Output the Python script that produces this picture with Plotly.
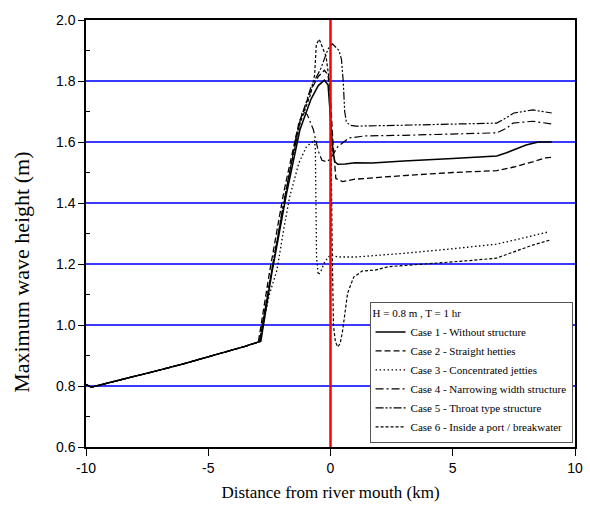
import plotly.graph_objects as go

# ---------------- data ----------------
x_common = [-10, -9.9, -9.78, -9.0, -8.0, -7.0, -6.0, -5.0, -4.0, -3.5, -3.0]
y_common = [0.805, 0.802, 0.796, 0.812, 0.831, 0.852, 0.873, 0.895, 0.918, 0.930, 0.943]

case1_x = [-2.85, -2.4, -1.8, -1.25, -0.8, -0.5, -0.25, -0.1, 0.0, 0.1, 0.18, 0.3, 0.6, 1.0, 1.7, 3.0, 5.0, 6.8, 7.2, 7.5, 8.0, 8.5, 9.05]
case1_y = [0.946, 1.17, 1.43, 1.64, 1.74, 1.785, 1.803, 1.787, 1.68, 1.57, 1.535, 1.527, 1.528, 1.532, 1.531, 1.538, 1.546, 1.554, 1.565, 1.575, 1.59, 1.60, 1.60]

case2_x = [-2.95, -2.5, -1.9, -1.3, -0.8, -0.5, -0.25, -0.1, 0.0, 0.1, 0.22, 0.5, 1.0, 3.0, 5.0, 6.8, 7.5, 8.27, 8.8, 9.05]
case2_y = [0.944, 1.17, 1.44, 1.66, 1.77, 1.815, 1.835, 1.82, 1.74, 1.60, 1.48, 1.47, 1.478, 1.49, 1.50, 1.506, 1.518, 1.535, 1.548, 1.55]

case3_x = [-2.9, -2.5, -2.19, -1.9, -1.67, -1.3, -0.99, -0.75, -0.66, -0.62, -0.6, -0.57, -0.5, -0.4, -0.26, -0.1, 0.02, 0.3, 1.03, 3.0, 5.0, 6.78, 7.5, 8.27, 8.9]
case3_y = [0.946, 1.10, 1.18, 1.32, 1.42, 1.53, 1.584, 1.60, 1.607, 1.58, 1.40, 1.22, 1.164, 1.175, 1.203, 1.222, 1.23, 1.223, 1.223, 1.235, 1.25, 1.265, 1.278, 1.292, 1.305]

case4_x = [-2.9, -2.4, -1.8, -1.4, -1.15, -0.95, -0.7, -0.5, -0.35, -0.15, 0.0, 0.14, 0.3, 0.75, 1.4, 3.0, 5.0, 6.8, 7.2, 7.46, 8.27, 9.07]
case4_y = [0.946, 1.18, 1.45, 1.62, 1.70, 1.69, 1.64, 1.57, 1.54, 1.535, 1.545, 1.564, 1.585, 1.613, 1.62, 1.622, 1.625, 1.63, 1.645, 1.662, 1.668, 1.659]

case5_x = [-2.9, -2.4, -1.8, -1.25, -0.8, -0.4, -0.1, 0.08, 0.35, 0.45, 0.52, 0.58, 0.65, 0.8, 1.03, 3.0, 5.0, 6.8, 7.2, 7.5, 8.27, 9.05]
case5_y = [0.946, 1.18, 1.45, 1.665, 1.78, 1.84, 1.905, 1.922, 1.90, 1.87, 1.80, 1.70, 1.665, 1.655, 1.652, 1.655, 1.658, 1.662, 1.68, 1.695, 1.705, 1.695]

case6_x = [-2.9, -2.4, -1.8, -1.25, -0.8, -0.65, -0.58, -0.46, -0.32, -0.18, -0.05, 0.02, 0.07, 0.12, 0.2, 0.3, 0.4, 0.5, 0.7, 0.95, 1.3, 1.83, 2.35, 4.0, 5.5, 6.78, 7.5, 8.27, 9.0]
case6_y = [0.946, 1.18, 1.45, 1.66, 1.76, 1.82, 1.92, 1.937, 1.91, 1.88, 1.80, 1.60, 1.25, 1.00, 0.945, 0.928, 0.94, 0.984, 1.105, 1.157, 1.177, 1.18, 1.191, 1.20, 1.21, 1.219, 1.24, 1.262, 1.279]

case_names = [
    "Case 1 - Without structure",
    "Case 2 - Straight hetties",
    "Case 3 - Concentrated jetties",
    "Case 4 - Narrowing width structure",
    "Case 5 - Throat type structure",
    "Case 6 - Inside a port / breakwater",
]
legend_title = "H = 0.8 m , T = 1 hr"
river_mouth_x = 0
x_ticks = [-10, -5, 0, 5, 10]
x_tick_labels = ["-10", "-5", "0", "5", "10"]
y_ticks = [0.6, 0.8, 1.0, 1.2, 1.4, 1.6, 1.8, 2.0]
y_tick_labels = ["0.6", "0.8", "1.0", "1.2", "1.4", "1.6", "1.8", "2.0"]
y_minor_ticks = [0.7, 0.9, 1.1, 1.3, 1.5, 1.7, 1.9]
y_range = [0.6, 2.0]

# ---------------- figure ----------------
series = [
    (case1_x, case1_y, "solid", 1.5),
    (case2_x, case2_y, "6px,3px", 1.3),
    (case3_x, case3_y, "1.5px,2.5px", 1.3),
    (case4_x, case4_y, "8px,3px,2px,3px", 1.2),
    (case5_x, case5_y, "8px,2px,2px,2px,2px,2px", 1.2),
    (case6_x, case6_y, "3px,2px", 1.2),
]

fig = go.Figure()
for (xs, ys, dash, w), name in zip(series, case_names):
    fig.add_trace(go.Scatter(
        x=x_common + xs, y=y_common + ys, mode="lines", name=name,
        line=dict(color="black", width=w, dash=dash),
    ))

fig.add_shape(type="line", x0=river_mouth_x, x1=river_mouth_x, xref="x",
              y0=0, y1=1, yref="paper", line=dict(color="#ff0000", width=2.5))

fig.add_annotation(text="Maximum wave height (m)", textangle=-90,
                   xref="paper", yref="paper", x=-0.131, y=0.41,
                   xanchor="center", yanchor="middle", showarrow=False,
                   font=dict(family="Liberation Serif", size=22, color="black"))

fig.update_layout(
    width=590, height=513,
    margin=dict(l=86, r=7, t=20, b=66),
    paper_bgcolor="white", plot_bgcolor="white",
    xaxis=dict(
        range=[-10, 10], tickvals=x_ticks, ticktext=x_tick_labels, ticks="outside",
        ticklen=7, tickwidth=1.3,
        tickcolor="black", showline=True, linecolor="black", linewidth=1.5, mirror=True,
        showgrid=False, zeroline=False,
        tickfont=dict(family="Liberation Sans", size=14, color="black"),
        title=dict(text="Distance from river mouth (km)", standoff=12,
                   font=dict(family="Liberation Serif", size=17, color="black")),
    ),
    yaxis=dict(
        range=y_range, tickvals=y_ticks, ticktext=y_tick_labels, ticks="outside",
        ticklen=6, tickwidth=1.3, tickcolor="black", showline=True, linecolor="black",
        linewidth=1.5, mirror=True, showgrid=True, gridcolor="#3a3aff", gridwidth=1.7,
        zeroline=False,
        minor=dict(tickvals=y_minor_ticks, ticks="inside", ticklen=4, tickcolor="black",
                   showgrid=False),
        tickfont=dict(family="Liberation Sans", size=14, color="black"),
    ),
    yaxis2=dict(
        overlaying="y", side="right", range=y_range, showgrid=False, zeroline=False,
        showline=False, showticklabels=False, tickvals=y_ticks, ticks="",
        minor=dict(tickvals=y_minor_ticks, ticks="inside", ticklen=4, tickcolor="black",
                   showgrid=False),
    ),
    legend=dict(
        x=0.995, y=0.009, xanchor="right", yanchor="bottom",
        bgcolor="white", bordercolor="#555555", borderwidth=1,
        font=dict(family="Liberation Serif", size=11, color="black"),
        title=dict(text=legend_title, font=dict(family="Liberation Serif", size=11, color="black")),
        itemwidth=30, tracegroupgap=0,
    ),
    showlegend=True,
)

fig.write_html("out.html")
